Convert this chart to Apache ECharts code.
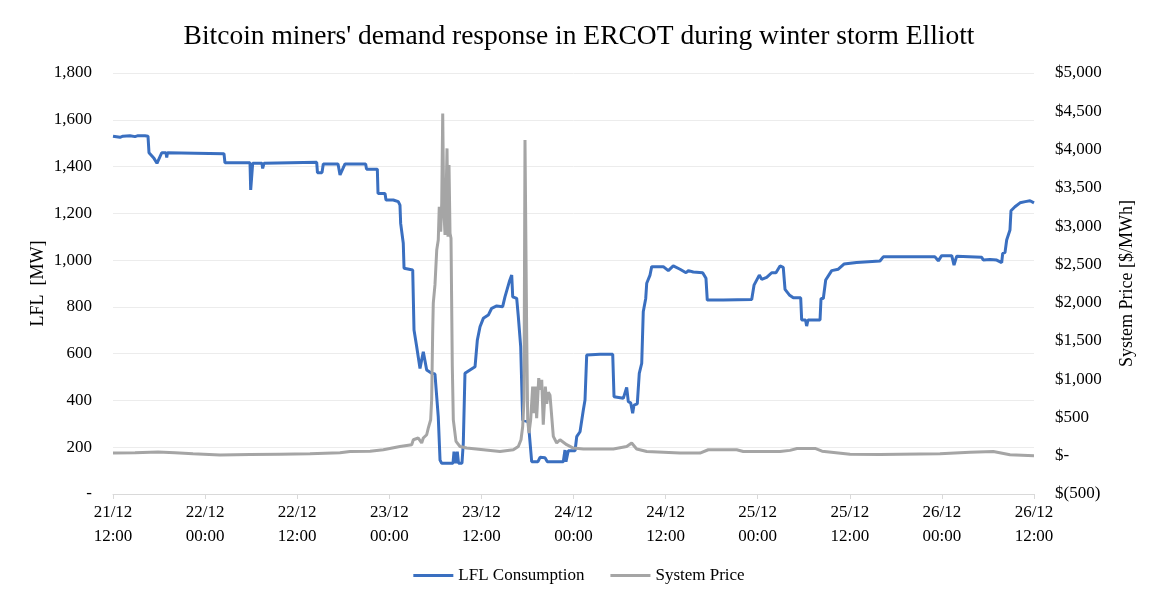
<!DOCTYPE html>
<html>
<head>
<meta charset="utf-8">
<script src="https://cdn.jsdelivr.net/npm/echarts@6/dist/echarts.min.js"></script>
<style>
html,body{margin:0;padding:0;background:#fff;}
#chart{width:1158px;height:598px;}
</style>
</head>
<body>
<div id="chart"></div>
<script>
// Hours since 21/12 12:00
const xTickLabels = ['21/12\n12:00','22/12\n00:00','22/12\n12:00','23/12\n00:00','23/12\n12:00','24/12\n00:00','24/12\n12:00','25/12\n00:00','25/12\n12:00','26/12\n00:00','26/12\n12:00'];

const lflHours = [0,0.91,1.04,1.30,2.21,2.87,3.00,3.26,4.17,4.56,4.69,5.34,5.73,6.35,6.91,7.00,7.10,10.68,14.46,14.59,17.85,17.94,18.20,19.41,19.50,19.67,26.54,26.64,27.23,27.40,29.32,29.58,30.23,32.92,33.03,34.44,34.53,35.44,35.57,36.52,36.61,37.17,37.39,37.48,37.82,37.92,39.05,39.22,39.57,40.00,40.43,40.87,41.52,41.95,42.38,42.61,42.83,44.30,44.43,44.69,44.86,45.02,45.47,45.64,45.86,46.51,47.17,47.47,47.82,48.25,48.90,49.34,49.99,50.77,51.07,51.64,51.95,52.08,52.60,52.81,53.12,53.38,54.11,54.55,55.37,55.64,56.29,56.59,58.67,58.89,59.02,59.32,60.20,60.42,60.85,61.28,61.50,61.72,63.45,65.11,65.28,66.49,66.93,67.14,67.45,67.71,67.88,68.31,68.57,68.89,69.09,69.41,69.54,69.97,70.19,71.70,72.35,73.00,73.88,74.66,74.96,75.61,76.83,77.26,77.43,79.52,79.74,83.22,83.52,84.21,84.52,85.17,85.82,86.38,86.91,87.33,87.56,88.12,88.64,89.60,89.73,90.23,90.38,90.55,92.12,92.25,92.55,92.86,93.64,93.85,94.50,95.24,96.89,99.93,100.36,107.10,107.53,107.97,109.28,109.58,109.93,113.18,113.39,114.27,115.14,115.79,115.92,116.22,116.44,116.87,117.00,117.52,118.18,118.86,119.48,120.00];
const lflValues = [1530,1525,1517,1530,1532,1528,1520,1532,1532,1530,1459,1435,1414,1459,1459,1439,1459,1457,1455,1416,1416,1300,1414,1414,1392,1414,1418,1374,1374,1411,1411,1364,1411,1411,1389,1389,1285,1285,1257,1257,1250,1250,1235,1157,1072,965,958,701,630,537,608,530,516,513,330,145,131,132,181,132,181,132,132,217,516,530,544,658,715,751,765,794,804,801,843,908,936,843,836,758,630,316,309,138,138,157,155,138,138,188,138,185,185,245,266,359,402,594,598,597,416,409,456,395,390,345,380,385,516,559,779,836,901,936,972,972,955,975,961,946,955,949,946,922,829,829,835,832,893,936,918,926,946,946,975,969,875,851,839,839,744,744,718,744,744,836,836,915,955,950,961,983,990,996,1014,1014,997,1019,1019,979,1017,1012,1000,1003,1000,989,1029,1032,1086,1129,1211,1228,1245,1250,1254,1245];

const priceHours = [0,2.87,5.86,8.08,10.42,13.94,17.85,21.76,25.67,29.58,30.88,33.49,35.22,37.39,38.92,39.13,39.78,40.22,40.43,40.87,41.08,41.39,41.52,41.65,41.73,41.95,42.18,42.38,42.51,42.70,42.83,42.96,43.09,43.26,43.39,43.52,43.65,43.78,43.91,44.04,44.21,44.34,44.69,45.21,46.08,48.25,50.42,52.16,52.81,53.16,53.38,53.55,53.68,53.90,54.03,54.20,54.42,54.68,54.85,55.02,55.20,55.47,55.64,55.86,56.06,56.33,56.51,56.72,56.94,57.16,57.37,57.81,58.24,59.11,59.97,61.28,65.19,66.93,67.58,68.23,69.54,73.88,76.48,77.56,81.26,82.12,86.91,88.21,89.12,91.47,92.38,96.03,99.93,102.54,107.75,111.66,114.70,116.87,120];
const priceValues = [35,40,48,38,26,10,15,20,25,40,56,60,78,121,144,209,231,166,231,274,361,470,731,1601,1993,2232,2688,2819,3253,2927,3298,4472,3253,2884,3341,4015,2862,3798,2906,2841,1165,470,187,121,100,78,56,78,121,209,382,731,4124,1601,470,296,470,904,557,904,492,1014,861,992,405,904,680,830,790,800,252,166,209,144,100,87,87,121,166,87,56,35,35,78,78,56,56,70,95,95,60,20,15,20,26,45,56,13,0];

const lflData = lflHours.map((h, i) => [h, lflValues[i]]);
const priceData = priceHours.map((h, i) => [h, priceValues[i]]);

const FONT = "'Liberation Serif','Times New Roman',serif";
const chart = echarts.init(document.getElementById('chart'));
chart.setOption({
  backgroundColor: '#ffffff',
  animation: false,
  textStyle: { fontFamily: FONT, color: '#000' },
  title: {
    text: "Bitcoin miners' demand response in ERCOT during winter storm Elliott",
    left: 'center', top: 18,
    textStyle: { fontFamily: FONT, fontSize: 27.5, fontWeight: 'normal', color: '#000' }
  },
  legend: {
    bottom: 9, left: 'center',
    itemWidth: 40, itemHeight: 3, itemGap: 26, icon: 'rect',
    textStyle: { fontFamily: FONT, fontSize: 17, color: '#000' },
    data: ['LFL Consumption', 'System Price']
  },
  grid: { left: 113, right: 124, top: 73, bottom: 104 },
  xAxis: {
    type: 'value', min: 0, max: 120, interval: 12,
    axisLine: { show: true, lineStyle: { color: '#d9d9d9', width: 1 } },
    axisTick: { show: true, length: 5, lineStyle: { color: '#d9d9d9' } },
    splitLine: { show: false },
    axisLabel: {
      fontFamily: FONT, fontSize: 17, color: '#000', lineHeight: 24, margin: 7,
      formatter: v => xTickLabels[Math.round(v / 12)]
    }
  },
  yAxis: [
    {
      type: 'value', min: 0, max: 1800, interval: 200,
      name: 'LFL  [MW]', nameLocation: 'middle', nameGap: 66, nameMoveOverlap: false,
      nameTextStyle: { fontFamily: FONT, fontSize: 18, color: '#000' },
      axisLine: { show: false }, axisTick: { show: false },
      splitLine: { lineStyle: { color: '#ececec', width: 1 } },
      axisLabel: {
        fontFamily: FONT, fontSize: 17, color: '#000', margin: 21,
        formatter: v => v === 0 ? '-' : v.toLocaleString('en-US')
      }
    },
    {
      type: 'value', min: -500, max: 5000, interval: 500,
      name: 'System Price [$/MWh]', nameLocation: 'middle', nameGap: 84, nameMoveOverlap: false,
      nameTextStyle: { fontFamily: FONT, fontSize: 18, color: '#000' },
      axisLine: { show: false }, axisTick: { show: false },
      splitLine: { show: false },
      axisLabel: {
        fontFamily: FONT, fontSize: 17, color: '#000', margin: 21,
        formatter: v => v < 0 ? '$(' + Math.abs(v).toLocaleString('en-US') + ')' : (v === 0 ? '$-' : '$' + v.toLocaleString('en-US'))
      }
    }
  ],
  series: [
    {
      name: 'LFL Consumption', type: 'line', yAxisIndex: 0,
      data: lflData, showSymbol: false, symbol: 'none',
      lineStyle: { color: '#3a6fc0', width: 3 }, itemStyle: { color: '#3a6fc0' }
    },
    {
      name: 'System Price', type: 'line', yAxisIndex: 1,
      data: priceData, showSymbol: false, symbol: 'none',
      lineStyle: { color: '#a5a5a5', width: 3 }, itemStyle: { color: '#a5a5a5' }
    }
  ]
});
</script>
</body>
</html>
